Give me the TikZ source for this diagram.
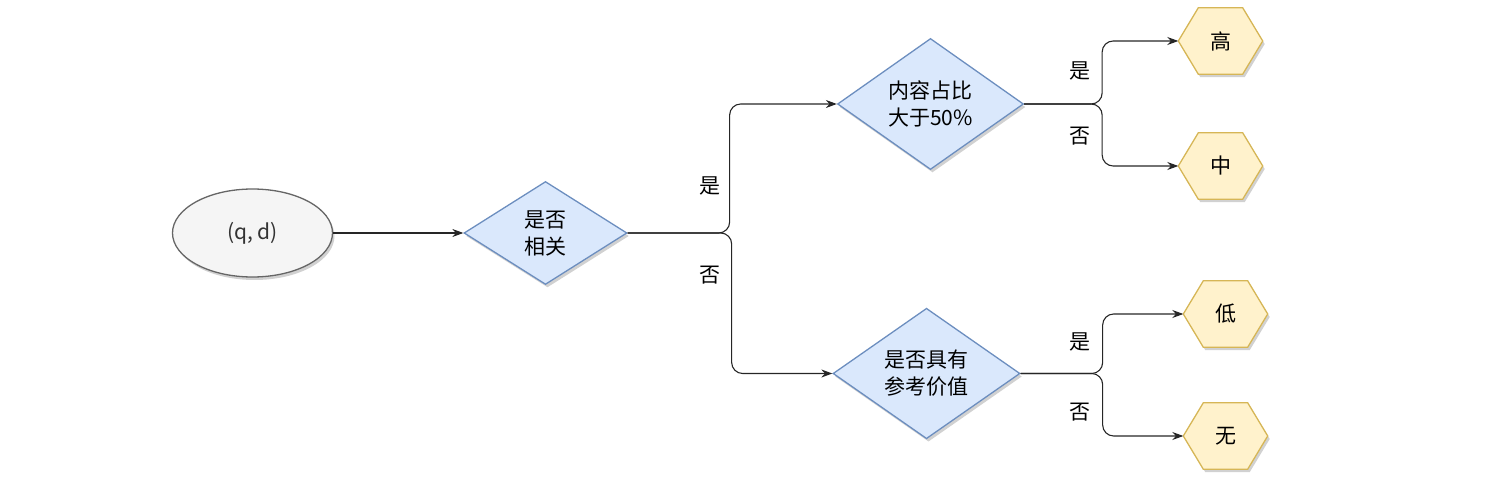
\documentclass[tikz,border=0pt]{standalone}
\usepackage{fontspec}
\setmainfont{Noto Sans CJK SC}
\usetikzlibrary{shapes.geometric,arrows.meta,backgrounds,shadows}
\definecolor{bluefill}{HTML}{DAE8FC}
\definecolor{bluedraw}{HTML}{6C8EBF}
\definecolor{yelfill}{HTML}{FFF2CC}
\definecolor{yeldraw}{HTML}{D6B656}
\definecolor{grayfill}{HTML}{F5F5F5}
\definecolor{graydraw}{HTML}{666666}
\definecolor{txtgray}{HTML}{333333}
\tikzset{
  shad/.style={drop shadow={shadow xshift=2pt,shadow yshift=-3pt,opacity=0.18,fill=black}},
  startnode/.style={ellipse,draw=graydraw,fill=grayfill,line width=1.3pt,minimum width=160pt,minimum height=88pt,inner sep=0pt,text=txtgray,font=\fontsize{21}{26}\selectfont,shad},
  decide/.style={diamond,draw=bluedraw,fill=bluefill,line width=1.3pt,inner sep=0pt,align=center,font=\fontsize{21}{27}\selectfont,shad},
  hexnode/.style={rectangle,minimum width=84pt,minimum height=66pt,inner sep=0pt,font=\fontsize{21}{26}\selectfont},
  hexshape/.style={draw=yeldraw,fill=yelfill,line width=1.3pt,shad},
  conn/.style={draw=black!85,line width=1.1pt,rounded corners=11pt,-{Stealth[length=11pt,width=8pt]}},
  lbl/.style={font=\fontsize{21}{26}\selectfont,inner sep=0pt}
}
\newcommand{\hexdraw}[1]{%
  \begin{pgfonlayer}{background}
  \path[hexshape] (#1.west) -- ([xshift=20pt]#1.north west) -- ([xshift=-20pt]#1.north east) -- (#1.east) -- ([xshift=-20pt]#1.south east) -- ([xshift=20pt]#1.south west) -- cycle;
  \end{pgfonlayer}}
\begin{document}
\begin{tikzpicture}[x=1pt,y=-1pt]
\useasboundingbox (0,0) rectangle (1508,478);
\node[startnode] (qd) at (252.5,233) {(q, d)};
\node[decide,minimum width=163pt,minimum height=103pt] (rel) at (545.5,233) {是否\\相关};
\node[decide,minimum width=186pt,minimum height=125pt] (ratio) at (930.5,104) {内容占比\\大于50\%};
\node[decide,minimum width=187pt,minimum height=122pt] (ref) at (926.5,373.5) {是否具有\\参考价值};
\node[hexnode] (hi) at (1220.5,41) {高};
\node[hexnode] (mid) at (1220.5,166) {中};
\node[hexnode] (lo) at (1225.5,314) {低};
\node[hexnode] (none) at (1225.5,436) {无};
\hexdraw{hi}\hexdraw{mid}\hexdraw{lo}\hexdraw{none}
\draw[conn] (qd.east) -- (rel.west);
\draw[conn] (rel.east) -- ([xshift=102pt]rel.east) |- (ratio.west);
\draw[conn] (rel.east) -- ([xshift=104pt]rel.east) |- (ref.west);
\draw[conn] (ratio.east) -- ([xshift=78pt]ratio.east) |- (hi.west);
\draw[conn] (ratio.east) -- ([xshift=78pt]ratio.east) |- (mid.west);
\draw[conn] (ref.east) -- ([xshift=82pt]ref.east) |- (lo.west);
\draw[conn] (ref.east) -- ([xshift=82pt]ref.east) |- (none.west);
\node[lbl] (l1) at (710,186) {是};
\node[lbl] (l2) at (710,275) {否};
\node[lbl] (l3) at (1080,71) {是};
\node[lbl] (l4) at (1080,136) {否};
\node[lbl] (l5) at (1080,342) {是};
\node[lbl] (l6) at (1080,412) {否};
\end{tikzpicture}
\end{document}
